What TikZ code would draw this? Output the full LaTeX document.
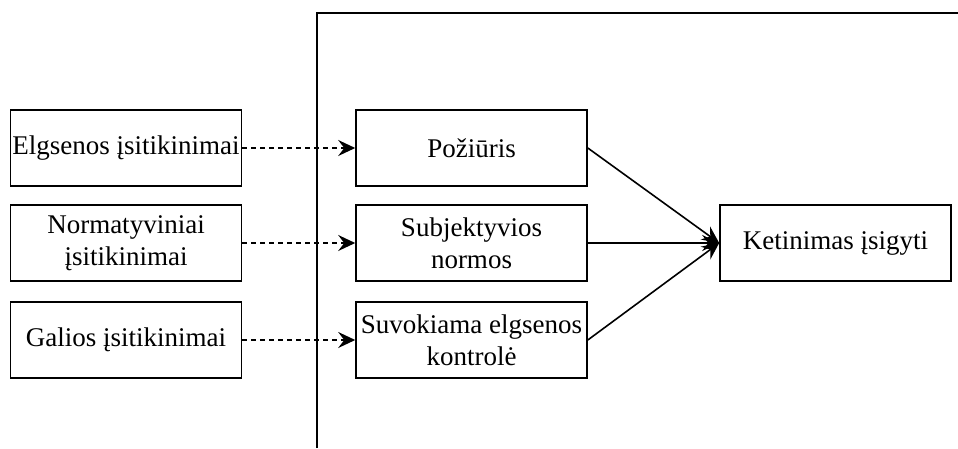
\documentclass[tikz,border=0pt]{standalone}
\usepackage{fontspec}
\setmainfont{Liberation Serif}
\usetikzlibrary{arrows.meta}
\begin{document}
\begin{tikzpicture}[x=1pt,y=-1pt,
  box/.style={draw, line width=1.6pt, rectangle, minimum width=231pt, minimum height=76pt,
    inner sep=0pt, align=center, font=\fontsize{27}{32}\selectfont},
  dashedarrow/.style={draw, line width=1.5pt, dash pattern=on 5pt off 4pt,
    -{Stealth[length=17pt,width=16pt,inset=6pt]}},
  solidarrow/.style={draw, line width=1.6pt, -{Stealth[length=17pt,width=16pt,inset=6pt]}},
  frame/.style={draw, line width=1.6pt}]
  \useasboundingbox (0,0) rectangle (958,448);
  % frame lines
  \coordinate (fbot) at (317,448);
  \coordinate (fcorner) at (317,13);
  \coordinate (fright) at (958,13);
  \path[frame] (fbot) -- (fcorner) -- (fright);
  % beliefs
  \node[box] (b1) at (126,148) {Elgsenos įsitikinimai};
  \node[box] (b2) at (126,243) {Normatyviniai\\įsitikinimai};
  \node[box] (b3) at (126,340) {Galios įsitikinimai};
  % constructs
  \node[box] (c1) at (471.5,148) {Požiūris};
  \node[box] (c2) at (471.5,243) {Subjektyvios\\normos};
  \node[box] (c3) at (471.5,340) {Suvokiama elgsenos\\kontrolė};
  % intention
  \node[box] (ki) at (835.5,243) {Ketinimas įsigyti};
  % connectors
  \path[dashedarrow] (b1.east) -- (c1.west);
  \path[dashedarrow] (b2.east) -- (c2.west);
  \path[dashedarrow] (b3.east) -- (c3.west);
  \path[solidarrow] (c1.east) -- (ki.west);
  \path[solidarrow] (c2.east) -- (ki.west);
  \path[solidarrow] (c3.east) -- (ki.west);
\end{tikzpicture}
\end{document}
